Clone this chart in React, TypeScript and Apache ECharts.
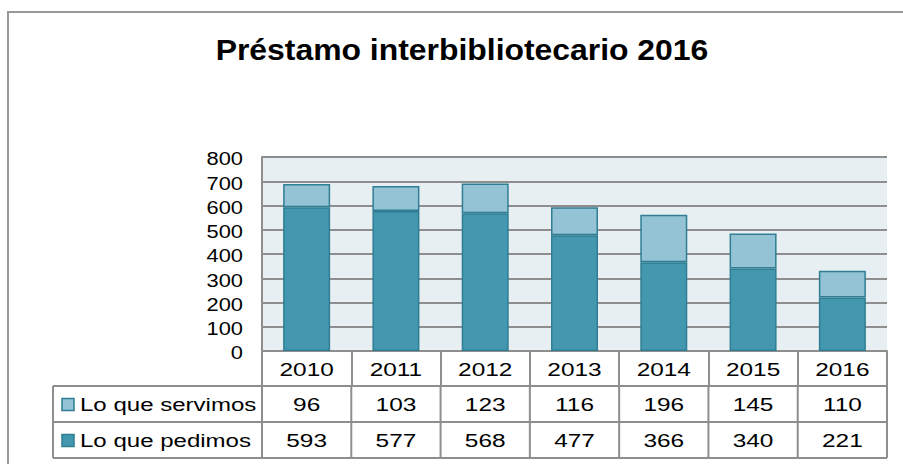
import React, { useEffect, useRef } from "react";
import * as echarts from "echarts";

const categories = ["2010", "2011", "2012", "2013", "2014", "2015", "2016"];
const servimos = [96, 103, 123, 116, 196, 145, 110];
const pedimos = [593, 577, 568, 477, 366, 340, 221];
const seriesNames = ["Lo que servimos", "Lo que pedimos"];
const yTicks = [0, 100, 200, 300, 400, 500, 600, 700, 800];
const titleText = "Préstamo interbibliotecario 2016";

const FONT = "'Liberation Sans', Arial, sans-serif";
const DARK = "#4398B0";
const LIGHT = "#93C3D4";
const EDGE = "#2F7E93";
const GRID = "#8E8E8E";
const FS = 18.5;

export default function App() {
  const ref = useRef<HTMLDivElement>(null);
  useEffect(() => {
    document.body.style.margin = "0";
    const chart = echarts.init(ref.current!, null, { renderer: "svg" });
    const gridLeft = 262;
    const gridRight = 903 - 887;
    const gridTop = 157;
    const gridBottom = 464 - 351;
    chart.setOption({
      animation: false,
      grid: {
        left: gridLeft,
        right: gridRight,
        top: gridTop,
        bottom: gridBottom,
        backgroundColor: "#E8EFF3",
        show: true,
        borderWidth: 0,
      },
      xAxis: {
        type: "category",
        data: categories,
        axisLine: { show: true, lineStyle: { color: GRID, width: 2 } },
        axisTick: { show: true, length: 35, lineStyle: { color: GRID, width: 2 } },
        axisLabel: { show: false },
      },
      yAxis: {
        type: "value",
        min: 0,
        max: 800,
        interval: 100,
        axisLine: { show: true, lineStyle: { color: GRID, width: 2 } },
        axisTick: { show: false },
        splitLine: { lineStyle: { color: GRID, width: 2 } },
        axisLabel: { show: false },
      },
      series: [
        {
          name: seriesNames[1],
          type: "bar",
          stack: "a",
          data: pedimos,
          barWidth: 47,
          itemStyle: { color: DARK, borderColor: EDGE, borderWidth: 1.5 },
        },
        {
          name: seriesNames[0],
          type: "bar",
          stack: "a",
          data: servimos,
          barWidth: 47,
          itemStyle: { color: LIGHT, borderColor: EDGE, borderWidth: 1.5 },
        },
      ],
    });

    const centers = categories.map((_, i) => chart.convertToPixel({ xAxisIndex: 0 }, i) as number);
    const right = 903 - gridRight;
    const tableLeft = 53;
    const rowTops = [386, 422, 458];
    const g: any[] = [];
    const txt = (text: string, x: number, y: number, align: string, sx: number) => ({
      type: "text",
      x,
      y,
      scaleX: sx,
      style: {
        text,
        fontFamily: FONT,
        fontSize: FS,
        fill: "#000",
        textAlign: align,
        textVerticalAlign: "middle",
      },
    });
    // outer frame
    g.push({
      type: "rect",
      shape: { x: 8, y: 12, width: 1000, height: 600 },
      style: { fill: "none", stroke: "#999", lineWidth: 2 },
    });
    // title
    g.push({
      type: "text",
      x: 462,
      y: 50,
      scaleX: 1.1,
      style: {
        text: titleText,
        fontFamily: FONT,
        fontSize: 29,
        fontWeight: "bold",
        fill: "#000",
        textAlign: "center",
        textVerticalAlign: "middle",
      },
    });
    // y labels
    yTicks.forEach((v) => {
      const y = chart.convertToPixel({ yAxisIndex: 0 }, v) as number;
      g.push(txt(String(v), 243, y + 2, "right", 1.18));
    });
    // category labels
    categories.forEach((c, i) => {
      g.push(txt(c, centers[i], 370, "center", 1.32));
    });
    // horizontal lines
    rowTops.forEach((y) => {
      g.push({ type: "line", shape: { x1: tableLeft, y1: y, x2: right, y2: y }, style: { stroke: GRID, lineWidth: 2 } });
    });
    // vertical lines
    const step = (right - gridLeft) / categories.length;
    const xs = [tableLeft];
    for (let i = 0; i <= categories.length; i++) xs.push(gridLeft + i * step);
    xs.forEach((x) => {
      g.push({ type: "line", shape: { x1: x, y1: rowTops[0], x2: x, y2: rowTops[2] }, style: { stroke: GRID, lineWidth: 2 } });
    });
    const rows = [servimos, pedimos];
    const colors = [LIGHT, DARK];
    rows.forEach((vals, r) => {
      const cy = (rowTops[r] + rowTops[r + 1]) / 2 + 1;
      g.push({
        type: "rect",
        shape: { x: 62, y: cy - 6.5, width: 12, height: 12 },
        style: { fill: colors[r], stroke: EDGE, lineWidth: 1.5 },
      });
      g.push(txt(seriesNames[r], 80, cy, "left", 1.3));
      vals.forEach((v, i) => {
        g.push(txt(String(v), centers[i], cy, "center", 1.32));
      });
    });
    chart.setOption({ graphic: g });
    return () => chart.dispose();
  }, []);
  return <div ref={ref} style={{ width: 903, height: 464 }} />;
}
